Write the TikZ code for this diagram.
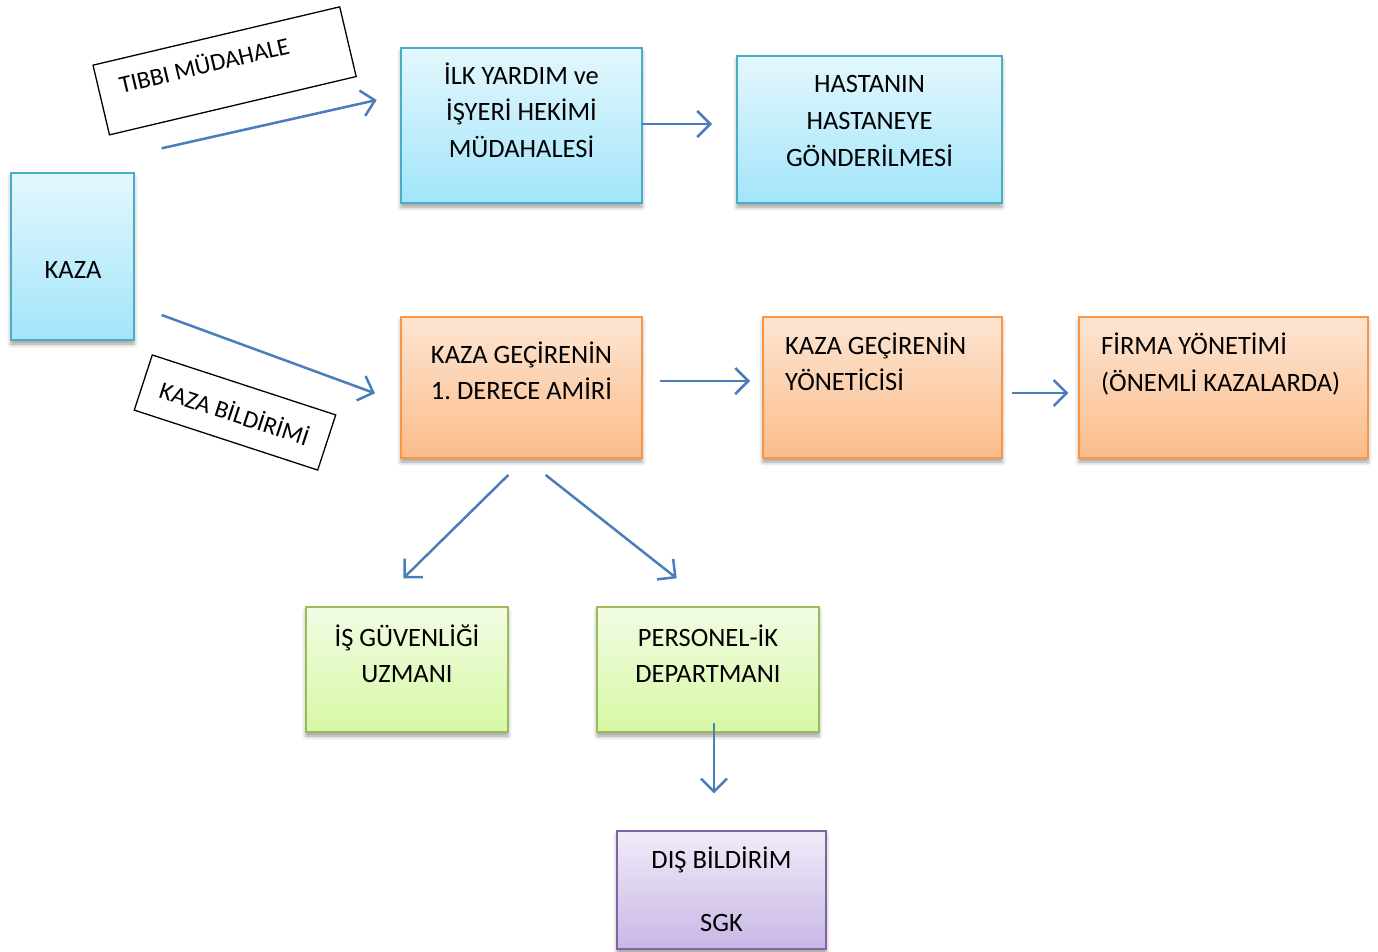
\documentclass[tikz,border=0pt]{standalone}
\usepackage{fontspec}
\setmainfont{Carlito}
\frenchspacing
\usetikzlibrary{arrows.meta,shadows.blur}
\definecolor{bluefillT}{HTML}{E4F7FD}
\definecolor{bluefillB}{HTML}{A2E5FA}
\definecolor{blueline}{HTML}{4BACC6}
\definecolor{orfillT}{HTML}{FDE5D2}
\definecolor{orfillB}{HTML}{FBBC8A}
\definecolor{orline}{HTML}{F79646}
\definecolor{grfillT}{HTML}{F2FCE4}
\definecolor{grfillB}{HTML}{D6F8A4}
\definecolor{grline}{HTML}{9BBB59}
\definecolor{pufillT}{HTML}{F1EBF8}
\definecolor{pufillB}{HTML}{C8B7E6}
\definecolor{puline}{HTML}{8064A2}
\definecolor{arrowblue}{HTML}{4A7EBB}
\begin{document}
\begin{tikzpicture}[x=1pt,y=-1pt,
  box/.style={rectangle, line width=2pt, inner sep=0pt,
    blur shadow={shadow xshift=0pt, shadow yshift=-4pt, shadow blur radius=4pt, shadow opacity=40}},
  bluebox/.style={box, draw=blueline, top color=bluefillT, bottom color=bluefillB},
  orbox/.style={box, draw=orline, top color=orfillT, bottom color=orfillB},
  grbox/.style={box, draw=grline, top color=grfillT, bottom color=grfillB},
  pubox/.style={box, draw=puline, top color=pufillT, bottom color=pufillB},
  txt/.style={font=\fontsize{26.5}{31}\selectfont, inner sep=0pt, anchor=base},
  txtl/.style={txt, anchor=base west},
  lbltxt/.style={font=\fontsize{24.5}{29}\selectfont, inner sep=0pt},
  lblbox/.style={draw=black, line width=1.3pt, fill=white, inner sep=0pt},
  conn/.style={draw=arrowblue, line width=2.5pt, -{Straight Barb[length=13pt,width=26pt]}}
]
\useasboundingbox (0,0) rectangle (1378,951);

% boxes
\node[bluebox, minimum width=123pt, minimum height=167pt] (kaza) at (72.5,256.5) {};
\node[bluebox, minimum width=241pt, minimum height=155pt] (ilk) at (521.5,125.5) {};
\node[bluebox, minimum width=265pt, minimum height=147pt] (hast) at (869.5,129.5) {};
\node[orbox, minimum width=241pt, minimum height=141pt] (der) at (521.5,387.5) {};
\node[orbox, minimum width=239pt, minimum height=141pt] (yon) at (882.5,387.5) {};
\node[orbox, minimum width=289pt, minimum height=141pt] (firma) at (1223.5,387.5) {};
\node[grbox, minimum width=202pt, minimum height=125pt] (isg) at (407,669.5) {};
\node[grbox, minimum width=222pt, minimum height=125pt] (pers) at (708,669.5) {};
\node[pubox, minimum width=209pt, minimum height=118pt] (dis) at (721.5,890) {};

% texts
\node[txt] (kazat) at (73,278.3) {KAZA};
\node[txt] (ilkt1) at (521.5,84.5) {İLK YARDIM ve};
\node[txt] (ilkt2) at (521.5,120.5) {İŞYERİ HEKİMİ};
\node[txt] (ilkt3) at (521.5,157.5) {MÜDAHALESİ};
\node[txt] (hastt1) at (869.5,92) {HASTANIN};
\node[txt] (hastt2) at (869.5,129.5) {HASTANEYE};
\node[txt] (hastt3) at (869.5,166) {GÖNDERİLMESİ};
\node[txt] (dert1) at (521.5,363) {KAZA GEÇİRENİN};
\node[txt] (dert2) at (521.5,399.5) {1. DERECE AMİRİ};
\node[txtl] (yont1) at (785,354) {KAZA GEÇİRENİN};
\node[txtl] (yont2) at (785,390.5) {YÖNETİCİSİ};
\node[txtl] (firmat1) at (1101,354) {FİRMA YÖNETİMİ};
\node[txtl] (firmat2) at (1101,391.5) {(ÖNEMLİ KAZALARDA)};
\node[txt] (isgt1) at (407,646) {İŞ GÜVENLİĞİ};
\node[txt] (isgt2) at (407,682) {UZMANI};
\node[txt] (perst1) at (708,646) {PERSONEL-İK};
\node[txt] (perst2) at (708,682) {DEPARTMANI};
\node[txt] (dist1) at (721.5,868.3) {DIŞ BİLDİRİM};
\node[txt] (dist2) at (721.5,931.7) {SGK};

% rotated label boxes
\begin{scope}[shift={(224.6,70.85)}, rotate=13.3, transform shape]
  \node[lblbox, minimum width=253.5pt, minimum height=71.6pt] (tibbi) at (0,0) {};
  \node[lbltxt, anchor=base west] (tibbit) at (-105.6,-1.8) {TIBBI MÜDAHALE};
\end{scope}
\node[lblbox, lbltxt, rotate=-18.1, minimum width=193pt, minimum height=58pt] (bild) at (235,412.5) {KAZA BİLDİRİMİ};

% connector end points
\coordinate (a1s) at (161.7,148.3);
\coordinate (a1e) at (376.7,100);
\coordinate (a2s) at (161.7,315);
\coordinate (a2e) at (375,393.3);
\coordinate (a3s) at (642,124);
\coordinate (a3e) at (712,124);
\coordinate (a4s) at (660,381);
\coordinate (a4e) at (750,381);
\coordinate (a5s) at (1011.7,393);
\coordinate (a5e) at (1068.3,393);
\coordinate (a6s) at (508.3,475);
\coordinate (a6e) at (403.3,578.3);
\coordinate (a7s) at (545.7,475);
\coordinate (a7e) at (676.7,578.3);
\coordinate (a8s) at (714,723.3);
\coordinate (a8e) at (714,793.3);

\draw[conn] (a1s) -- (a1e);
\draw[conn] (a2s) -- (a2e);
\draw[conn] (a3s) -- (a3e);
\draw[conn] (a4s) -- (a4e);
\draw[conn] (a5s) -- (a5e);
\draw[conn] (a6s) -- (a6e);
\draw[conn] (a7s) -- (a7e);
\draw[conn] (a8s) -- (a8e);
\end{tikzpicture}
\end{document}
